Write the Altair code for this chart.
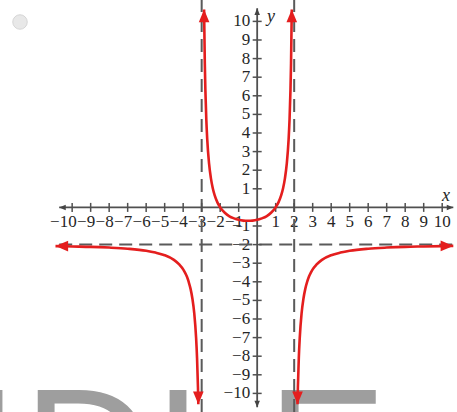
import altair as alt
import pandas as pd

# ---- curve branches (x, y samples along each branch) ----
left_x = [-10.9, -10, -9, -8, -7, -6, -5.5, -5, -4.5, -4.2, -4, -3.9, -3.8, -3.7,
          -3.6, -3.5, -3.4, -3.3, -3.25, -3.2, -3.18]
left_y = [-2.08, -2.10, -2.12, -2.16, -2.22, -2.33, -2.43, -2.57, -2.82, -3.08, -3.33,
          -3.51, -3.72, -4.01, -4.38, -4.91, -5.70, -7.03, -8.10, -9.69, -10.58]

mid_x = [-2.87, -2.83, -2.8, -2.75, -2.7, -2.6, -2.5, -2.4, -2.3, -2.15, -2,
         -1.75, -1.5, -1.25, -1, -0.75, -0.5, -0.25, 0, 0.25, 0.5, 0.75,
         1, 1.15, 1.3, 1.4, 1.5, 1.6, 1.7, 1.75, 1.8, 1.83, 1.87]
mid_y = [10.64, 7.74, 6.33, 4.74, 3.67, 2.35, 1.56, 1.03, 0.66, 0.27, 0,
         -0.29, -0.48, -0.59, -0.67, -0.71, -0.72, -0.71, -0.67, -0.59, -0.48, -0.29,
         0, 0.27, 0.66, 1.03, 1.56, 2.35, 3.67, 4.74, 6.33, 7.74, 10.64]

right_x = [2.18, 2.2, 2.25, 2.3, 2.4, 2.5, 2.6, 2.7, 2.8, 2.9, 3, 3.2, 3.5, 4,
           4.5, 5, 6, 7, 8, 9, 10, 10.6]
right_y = [-10.58, -9.69, -8.10, -7.03, -5.70, -4.91, -4.38, -4.01, -3.72, -3.51,
           -3.33, -3.08, -2.82, -2.57, -2.43, -2.33, -2.22, -2.16, -2.12, -2.10,
           -2.08, -2.07]

# ---- asymptotes ----
vertical_asymptotes = [-3, 2]
horizontal_asymptotes = [-2]

# ---- axis ticks and labels ----
tick_values = [-10, -9, -8, -7, -6, -5, -4, -3, -2, -1, 1, 2, 3, 4, 5, 6, 7, 8, 9, 10]
tick_labels = ["−10", "−9", "−8", "−7", "−6", "−5", "−4", "−3", "−2", "−1",
               "1", "2", "3", "4", "5", "6", "7", "8", "9", "10"]
x_axis_extent = [-10.7, 10.6]
y_axis_extent = [-10.75, 10.7]

RED = "#e41e1e"
AXIS = "#505050"
LABEL = "#262626"
SERIF = "Liberation Serif, Times New Roman, Times, serif"
ARROW = "M0,0L-1,-0.42L-1,0.42Z"  # arrowhead with its tip at the anchor point

xs = alt.Scale(domain=[-13.9, 10.8], nice=False, zero=False)
ys = alt.Scale(domain=[-11.0, 11.15], nice=False, zero=False)


def X(field):
    return alt.X(field, type="quantitative", scale=xs, axis=None)


def Y(field):
    return alt.Y(field, type="quantitative", scale=ys, axis=None)


# ---- tables ----
curves = pd.concat([
    pd.DataFrame({"x": left_x, "y": left_y, "branch": "left"}),
    pd.DataFrame({"x": mid_x, "y": mid_y, "branch": "middle"}),
    pd.DataFrame({"x": right_x, "y": right_y, "branch": "right"}),
], ignore_index=True)

curve_arrows = pd.DataFrame({
    "x": [left_x[0], left_x[-1], mid_x[0], mid_x[-1], right_x[0], right_x[-1]],
    "y": [left_y[0], left_y[-1], mid_y[0], mid_y[-1], right_y[0], right_y[-1]],
    "angle": [180, 90, 270, 270, 90, 0],
})

axis_arrows = pd.DataFrame({
    "x": [x_axis_extent[0], x_axis_extent[1], 0, 0],
    "y": [0, 0, y_axis_extent[1], y_axis_extent[0]],
    "angle": [180, 0, 270, 90],
})

vdash = pd.DataFrame({"x": vertical_asymptotes, "y": -11.0, "y2": 11.15})
hdash = pd.DataFrame({"y": horizontal_asymptotes, "x": -10.7, "x2": 10.8})

x_axis_line = pd.DataFrame({"x": [x_axis_extent[0]], "x2": [x_axis_extent[1]], "y": [0]})
y_axis_line = pd.DataFrame({"x": [0], "y": [y_axis_extent[0]], "y2": [y_axis_extent[1]]})

ticks = pd.DataFrame({"v": tick_values, "label": tick_labels, "zero": 0})
neg_ticks = ticks[ticks.v < 0]
pos_ticks = ticks[ticks.v > 0]

one = alt.Data(values=[{}])

# ---- faint lettering along the bottom edge ----
wm_style = dict(font="Liberation Sans", fontSize=180, color="#9e9e9e",
                align="left", baseline="alphabetic")
watermark = alt.layer(*[
    alt.Chart(one).mark_text(text=t, x=px, y=514, **wm_style)
    for t, px in [("I", -31), ("D", 23), ("I", 153), ("E", 267)]
])

dot = alt.Chart(one).mark_point(
    shape="circle", filled=True, size=210, x=20, y=22,
    fill="#e8e8e8", stroke="#d6d6d6", strokeWidth=1, opacity=1,
)

dash_style = dict(color="#5a5a5a", strokeWidth=2, strokeDash=[13, 7])
v_asym = alt.Chart(vdash).mark_rule(**dash_style).encode(x=X("x"), y=Y("y"), y2="y2")
h_asym = alt.Chart(hdash).mark_rule(**dash_style).encode(x=X("x"), x2="x2", y=Y("y"))

x_axis = alt.Chart(x_axis_line).mark_rule(color=AXIS, strokeWidth=1.8).encode(
    x=X("x"), x2="x2", y=Y("y"))
y_axis = alt.Chart(y_axis_line).mark_rule(color=AXIS, strokeWidth=1.8).encode(
    x=X("x"), y=Y("y"), y2="y2")

x_ticks = alt.Chart(ticks).mark_tick(orient="vertical", size=9, thickness=1.5,
                                     color=AXIS, opacity=1).encode(x=X("v"), y=Y("zero"))
y_ticks = alt.Chart(ticks).mark_tick(orient="horizontal", size=9, thickness=1.5,
                                     color=AXIS, opacity=1).encode(x=X("zero"), y=Y("v"))

lab = dict(font=SERIF, fontSize=17, color=LABEL, baseline="middle")
x_lab_neg = alt.Chart(neg_ticks).mark_text(align="right", dx=4.5, dy=15, **lab).encode(
    x=X("v"), y=Y("zero"), text="label:N")
x_lab_pos = alt.Chart(pos_ticks).mark_text(align="center", dy=15, **lab).encode(
    x=X("v"), y=Y("zero"), text="label:N")
y_lab = alt.Chart(ticks).mark_text(align="right", dx=-7, **lab).encode(
    x=X("zero"), y=Y("v"), text="label:N")

x_name = alt.Chart(one).mark_text(text="x", x=446, y=196, font=SERIF, fontSize=18,
                                  fontStyle="italic", color=LABEL, baseline="middle")
y_name = alt.Chart(one).mark_text(text="y", x=271, y=17, font=SERIF, fontSize=18,
                                  fontStyle="italic", color=LABEL, baseline="middle")

ax_arrows = alt.Chart(axis_arrows).mark_point(
    shape=ARROW, filled=True, size=170, color="#444444", opacity=1).encode(
    x=X("x"), y=Y("y"), angle=alt.Angle("angle:Q", scale=None))

lines = alt.Chart(curves).mark_line(color=RED, strokeWidth=2.6, interpolate="monotone").encode(
    x=X("x"), y=Y("y"), detail="branch:N")

heads = alt.Chart(curve_arrows).mark_point(
    shape=ARROW, filled=True, size=640, color=RED, opacity=1).encode(
    x=X("x"), y=Y("y"), angle=alt.Angle("angle:Q", scale=None))

chart = alt.layer(
    watermark, dot, x_lab_neg, x_lab_pos, y_lab, v_asym, h_asym,
    x_axis, y_axis, x_ticks, y_ticks, ax_arrows, x_name, y_name, lines, heads,
).properties(
    width=457, height=412,
    autosize=alt.AutoSizeParams(type="none"),
    padding=0,
    background="white",
).configure_view(stroke=None)

chart.save("out.html", embed_options={"renderer": "svg", "actions": False})
